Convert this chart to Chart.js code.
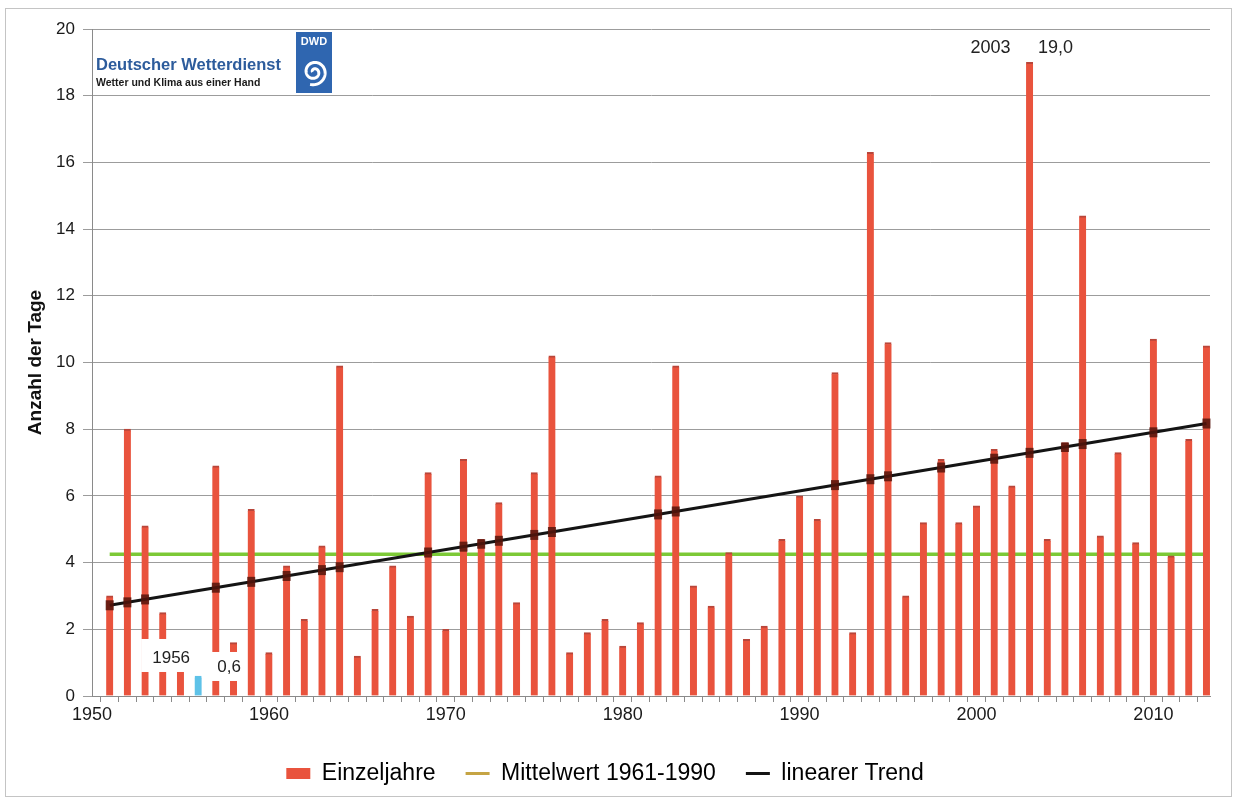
<!DOCTYPE html>
<html>
<head>
<meta charset="utf-8">
<title>Heiße Tage in Deutschland</title>
<script src="https://cdn.jsdelivr.net/npm/chart.js@4.4.1/dist/chart.umd.min.js"></script>
<style>
  html, body { margin: 0; padding: 0; background: #ffffff; }
  canvas { display: block; }
</style>
</head>
<body>
<canvas id="chart" width="1237" height="801"></canvas>
<script>
// Jahre und Anzahl der heißen Tage (Einzeljahre)
const years = [
  1951, 1952, 1953, 1954, 1955, 1956, 1957, 1958, 1959, 1960,
  1961, 1962, 1963, 1964, 1965, 1966, 1967, 1968, 1969, 1970,
  1971, 1972, 1973, 1974, 1975, 1976, 1977, 1978, 1979, 1980,
  1981, 1982, 1983, 1984, 1985, 1986, 1987, 1988, 1989, 1990,
  1991, 1992, 1993, 1994, 1995, 1996, 1997, 1998, 1999, 2000,
  2001, 2002, 2003, 2004, 2005, 2006, 2007, 2008, 2009, 2010,
  2011, 2012, 2013
];
const hotDays = [
  3.0, 8.0, 5.1, 2.5, 0.9, 0.6, 6.9, 1.6, 5.6, 1.3,
  3.9, 2.3, 4.5, 9.9, 1.2, 2.6, 3.9, 2.4, 6.7, 2.0,
  7.1, 4.7, 5.8, 2.8, 6.7, 10.2, 1.3, 1.9, 2.3, 1.5,
  2.2, 6.6, 9.9, 3.3, 2.7, 4.3, 1.7, 2.1, 4.7, 6.0,
  5.3, 9.7, 1.9, 16.3, 10.6, 3.0, 5.2, 7.1, 5.2, 5.7,
  7.4, 6.3, 19.0, 4.7, 7.6, 14.4, 4.8, 7.3, 4.6, 10.7,
  4.2, 7.7, 10.5
];

// Mittelwert der Referenzperiode
const meanValue = 4.25;
// Linearer Trend: Anfangs- und Endpunkt
const trendYears = [1951, 2013];
const trendValues = [2.72, 8.17];

// Beschriftete Achsenjahre
const xLabelYears = [1950, 1960, 1970, 1980, 1990, 2000, 2010];

const legendLabels = ['Einzeljahre', 'Mittelwert 1961-1990', 'linearer Trend'];
const yTitle = 'Anzahl der Tage';

const FONT = "'Liberation Sans', Arial, sans-serif";
const RED = '#e9533d';
const RED_TOP = '#b9463a';
const BLUE = '#5ec2e8';
const GREEN = '#7cc936';
const GOLD = '#c5a444';
const BLACK = '#141414';

const minIdx = hotDays.indexOf(Math.min(...hotDays));
const maxIdx = hotDays.indexOf(Math.max(...hotDays));
const fmt = v => v.toFixed(1).replace('.', ',');

// Zusatzzeichnungen: Rahmen, Logo, Markierungen am Trend, Beschriftungen
const extras = {
  id: 'extras',
  beforeDraw(chart) {
    const ctx = chart.ctx;
    ctx.save();
    ctx.fillStyle = '#ffffff';
    ctx.fillRect(0, 0, chart.width, chart.height);
    ctx.strokeStyle = '#c4c4c4';
    ctx.lineWidth = 1;
    ctx.strokeRect(5.5, 8.5, chart.width - 11, chart.height - 13);
    ctx.restore();
  },
  afterDatasetsDraw(chart) {
    const ctx = chart.ctx;
    const xs = chart.scales.x, ys = chart.scales.y;
    ctx.save();

    // dunkle Kreuzungsmarken, wo Balken die Trendlinie schneiden
    const tx0 = xs.getPixelForValue(trendYears[0]);
    const tx1 = xs.getPixelForValue(trendYears[1]);
    const ty0 = ys.getPixelForValue(trendValues[0]);
    const ty1 = ys.getPixelForValue(trendValues[1]);
    ctx.fillStyle = 'rgba(85,20,10,0.85)';
    years.forEach((yr, i) => {
      const px = xs.getPixelForValue(yr);
      const lineY = ty0 + (ty1 - ty0) * (px - tx0) / (tx1 - tx0);
      const top = ys.getPixelForValue(hotDays[i]);
      if (top <= lineY + 1) {
        const y0 = Math.max(top, lineY - 5);
        ctx.fillRect(px - 4, y0, 8, lineY + 5 - y0);
      }
    });

    // Minimum beschriften
    const minX = xs.getPixelForValue(years[minIdx]);
    const minY = ys.getPixelForValue(hotDays[minIdx]);
    ctx.font = '17px ' + FONT;
    ctx.textAlign = 'center';
    ctx.textBaseline = 'middle';
    ctx.fillStyle = '#ffffff';
    ctx.fillRect(minX - 57, minY - 37, 49, 33);
    ctx.fillRect(minX + 11, minY - 24, 30, 29);
    ctx.fillStyle = '#222222';
    ctx.fillText(String(years[minIdx]), minX - 27, minY - 18);
    ctx.fillText(fmt(hotDays[minIdx]), minX + 31, minY - 9);

    // Maximum beschriften
    const maxX = xs.getPixelForValue(years[maxIdx]);
    const maxY = ys.getPixelForValue(hotDays[maxIdx]);
    ctx.font = '18px ' + FONT;
    ctx.fillText(String(years[maxIdx]), maxX - 39, maxY - 14);
    ctx.fillText(fmt(hotDays[maxIdx]), maxX + 26, maxY - 14);

    // DWD-Logo
    ctx.textAlign = 'left';
    ctx.textBaseline = 'alphabetic';
    ctx.fillStyle = '#2d5c9c';
    ctx.font = 'bold 16.5px ' + FONT;
    ctx.fillText('Deutscher Wetterdienst', 96, 70);
    ctx.fillStyle = '#1a1a1a';
    ctx.font = 'bold 10.5px ' + FONT;
    ctx.fillText('Wetter und Klima aus einer Hand', 96, 86, 189);

    ctx.fillStyle = '#2f66b0';
    ctx.fillRect(296, 32, 36, 61);
    ctx.fillStyle = '#ffffff';
    ctx.font = 'bold 11px ' + FONT;
    ctx.textAlign = 'center';
    ctx.fillText('DWD', 314, 45);
    ctx.strokeStyle = '#ffffff';
    ctx.lineWidth = 3;
    ctx.beginPath();
    const cx = 314, cy = 72;
    for (let t = 0; t <= Math.PI * 3.6; t += 0.05) {
      const r = 1.5 + 11.5 * t / (Math.PI * 3.6);
      const px = cx + r * Math.cos(t + Math.PI);
      const py = cy + r * Math.sin(t + Math.PI);
      if (t === 0) ctx.moveTo(px, py); else ctx.lineTo(px, py);
    }
    ctx.stroke();
    ctx.restore();
  }
};

const barData = years.map((yr, i) => ({ x: yr, y: hotDays[i] }));
const meanData = [{ x: years[0], y: meanValue }, { x: years[years.length - 1], y: meanValue }];
const trendData = trendYears.map((yr, i) => ({ x: yr, y: trendValues[i] }));

new Chart(document.getElementById('chart'), {
  type: 'bar',
  data: {
    datasets: [
      {
        label: legendLabels[0],
        data: barData,
        backgroundColor: years.map((yr, i) => i === minIdx ? BLUE : RED),
        borderColor: years.map((yr, i) => i === minIdx ? BLUE : RED_TOP),
        borderWidth: { top: 2, left: 0, right: 0, bottom: 0 },
        borderSkipped: 'bottom',
        barThickness: 7,
        order: 2
      },
      {
        type: 'line',
        label: legendLabels[1],
        data: meanData,
        borderColor: GREEN,
        borderWidth: 3.5,
        pointRadius: 0,
        order: 3
      },
      {
        type: 'line',
        label: legendLabels[2],
        data: trendData,
        borderColor: BLACK,
        borderWidth: 3,
        pointRadius: 0,
        order: 1
      }
    ]
  },
  options: {
    responsive: false,
    animation: false,
    devicePixelRatio: 1,
    layout: { padding: { left: 0, right: 27, top: 29, bottom: 6 } },
    scales: {
      x: {
        type: 'linear',
        min: 1950,
        max: 2013.2,
        offset: false,
        border: { color: '#8a8a8a', width: 1 },
        grid: { drawOnChartArea: false, tickLength: 6, color: '#8a8a8a' },
        ticks: {
          stepSize: 1,
          autoSkip: false,
          includeBounds: false,
          maxRotation: 0,
          padding: 2,
          color: '#1a1a1a',
          font: { family: FONT, size: 18 },
          callback: v => xLabelYears.includes(v) ? String(v) : ''
        },
        afterFit: s => { s.height = 36; }
      },
      y: {
        min: 0,
        max: 20,
        border: { color: '#8a8a8a', width: 1 },
        grid: { color: '#9c9c9c', lineWidth: 1, tickLength: 9 },
        ticks: {
          stepSize: 2,
          padding: 8,
          color: '#1a1a1a',
          font: { family: FONT, size: 17 }
        },
        title: {
          display: true,
          text: yTitle,
          color: '#111111',
          font: { family: FONT, size: 19, weight: 'bold' },
          padding: { top: 24, bottom: 0 }
        },
        afterFit: s => { s.width = 92; }
      }
    },
    plugins: {
      tooltip: { enabled: false },
      legend: {
        position: 'bottom',
        labels: {
          usePointStyle: true,
          pointStyleWidth: 24,
          boxHeight: 11,
          padding: 30,
          color: '#111111',
          font: { family: FONT, size: 23 },
          generateLabels: () => [
            { text: legendLabels[0], fillStyle: RED, strokeStyle: RED, lineWidth: 0, pointStyle: 'rect', datasetIndex: 0 },
            { text: legendLabels[1], fillStyle: GOLD, strokeStyle: GOLD, lineWidth: 3, pointStyle: 'line', datasetIndex: 1 },
            { text: legendLabels[2], fillStyle: BLACK, strokeStyle: BLACK, lineWidth: 3, pointStyle: 'line', datasetIndex: 2 }
          ]
        }
      }
    }
  },
  plugins: [extras]
});
</script>
</body>
</html>
